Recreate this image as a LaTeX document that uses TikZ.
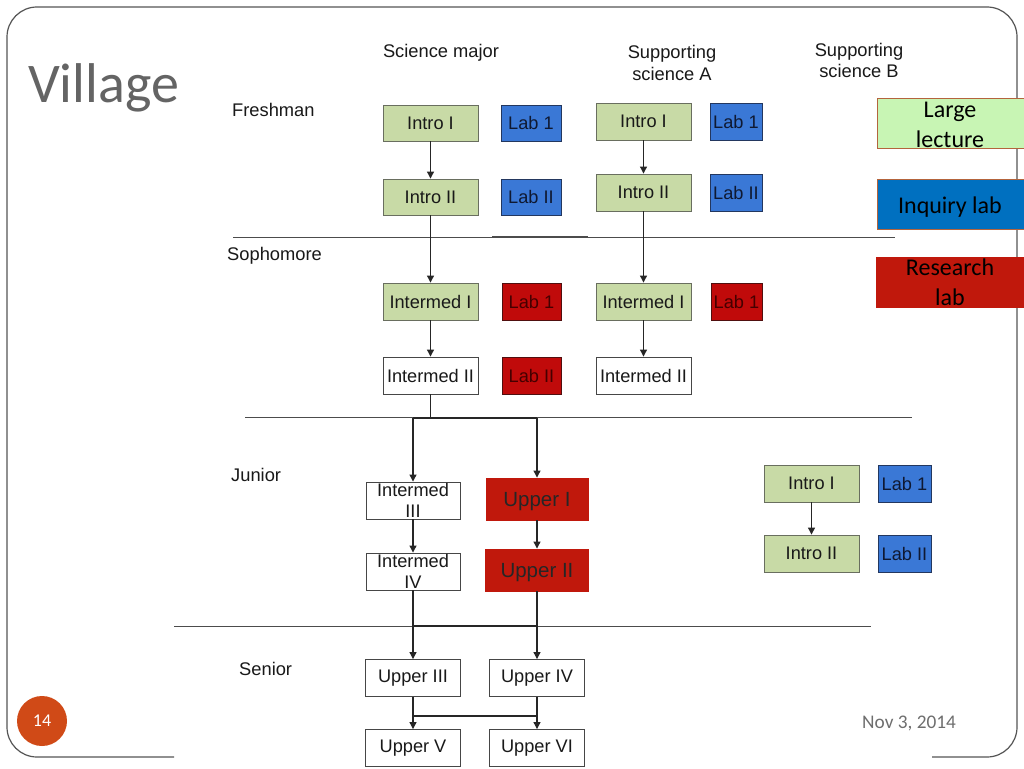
\documentclass[tikz,border=0pt]{standalone}
\usepackage{fontspec}
\setmainfont{Liberation Sans}
\newfontfamily\calib{Carlito}
\usetikzlibrary{arrows.meta}
\definecolor{boxgreen}{RGB}{200,218,166}
\definecolor{greenedge}{RGB}{105,110,95}
\definecolor{boxblue}{RGB}{58,120,214}
\definecolor{blueedge}{RGB}{35,55,95}
\definecolor{bluetext}{RGB}{15,25,50}
\definecolor{labred}{RGB}{192,10,10}
\definecolor{rededge}{RGB}{80,15,15}
\definecolor{redtext}{RGB}{70,0,0}
\definecolor{upred}{RGB}{192,24,12}
\definecolor{grayedge}{RGB}{70,70,70}
\definecolor{leggreen}{RGB}{200,245,180}
\definecolor{legblue}{RGB}{0,112,192}
\definecolor{legred}{RGB}{192,24,12}
\definecolor{legedge}{RGB}{180,100,60}
\definecolor{titlegray}{RGB}{100,100,100}
\definecolor{dategray}{RGB}{110,110,110}
\definecolor{pgorange}{RGB}{208,74,23}
\definecolor{framegray}{RGB}{85,85,85}
\begin{document}
\begin{tikzpicture}[x=1pt,y=-1pt,
  box/.style={draw, inner sep=0pt, line width=0.9pt, align=center,
    font=\fontsize{18.2}{21}\selectfont},
  wh/.style 2 args={minimum width=#1, minimum height=#2},
  gbox/.style={box, fill=boxgreen, draw=greenedge, text=black!90},
  bbox/.style={box, fill=boxblue, draw=blueedge, text=bluetext},
  rbox/.style={box, fill=labred, draw=rededge, text=redtext},
  wbox/.style={box, fill=white, draw=grayedge, text=black!90},
  ubox/.style={box, fill=upred, draw=upred, text=black!85,
    font=\fontsize{20.5}{22}\selectfont},
  legbox/.style={draw=legedge, line width=0.8pt, minimum width=148pt, minimum height=50pt, inner sep=0pt},
  legtext/.style={font=\calib\fontsize{24}{30}\selectfont, align=center, inner sep=0pt, text=black},
  lab/.style={font=\fontsize{18.3}{21}\selectfont, inner sep=0pt, text=black!90},
  conn/.style={draw=black!85, line width=1.1pt},
  arr/.style={conn, -{Triangle[length=7pt,width=7pt]}},
  sep/.style={draw=black!70, line width=1pt}]
\useasboundingbox (0,0) rectangle (1024,768);
\fill[white] (0,0) rectangle (1024,768);
% slide frame
\draw[framegray, line width=1.2pt, rounded corners=30pt]
  (174,757) -- (7,757) -- (7,7) -- (1017,7) -- (1017,757) -- (932,757);
% title and footer
\node[font=\calib\fontsize{56}{56}\selectfont, text=titlegray, anchor=base west, inner sep=0pt] (title) at (28,102) {Village};
\node[circle, fill=pgorange, minimum size=50pt, inner sep=0pt, text=white, font=\calib\fontsize{18}{18}\selectfont] (pg) at (42,721) {14};
\node[font=\calib\fontsize{19.3}{19}\selectfont, text=dategray, anchor=base west, inner sep=0pt] (date) at (862,728) {Nov 3, 2014};
% section lines
\draw[sep] (233,237) -- (895,237);
\draw[sep, line width=1.8pt] (492,237) -- (588,237);
\draw[sep] (245,417) -- (912,417);
\draw[sep] (174,626) -- (871,626);
% headers
\node[lab, anchor=base] (hsci) at (441,58) {Science major};
\node[lab, anchor=base, align=center] (hA) at (672,80) {Supporting\\science A};
\node[lab, anchor=base, align=center] (hB) at (859,77.5) {Supporting\\science B};
\node[lab, anchor=base west] (fresh) at (232,116) {Freshman};
\node[lab, anchor=base west] (soph) at (227,260) {Sophomore};
\node[lab, anchor=base west] (jun) at (231,481) {Junior};
\node[lab, anchor=base west] (sen) at (239,675) {Senior};
% science major
\node[gbox, wh={95pt}{36pt}] (sI1) at (430.5,123) {Intro I};
\node[bbox, wh={60pt}{36pt}] (sL1) at (531,123) {Lab 1};
\node[gbox, wh={95pt}{36pt}] (sI2) at (430.5,197) {Intro II};
\node[bbox, wh={60pt}{36pt}] (sL2) at (531,197) {Lab II};
\node[gbox, wh={95pt}{37pt}] (sM1) at (430.5,301.5) {Intermed I};
\node[rbox, wh={59pt}{37pt}] (sR1) at (531.5,301.5) {Lab 1};
\node[wbox, wh={95pt}{37pt}] (sM2) at (430.5,375.5) {Intermed II};
\node[rbox, wh={59pt}{37pt}] (sR2) at (531.5,375.5) {Lab II};
% supporting science A
\node[gbox, wh={95pt}{37pt}] (aI1) at (643.5,121.5) {Intro I};
\node[bbox, wh={52pt}{37pt}] (aL1) at (736,121.5) {Lab 1};
\node[gbox, wh={95pt}{37pt}] (aI2) at (643.5,192.5) {Intro II};
\node[bbox, wh={52pt}{37pt}] (aL2) at (736,192.5) {Lab II};
\node[gbox, wh={95pt}{37pt}] (aM1) at (643.5,301.5) {Intermed I};
\node[rbox, wh={51pt}{37pt}] (aR1) at (736.5,301.5) {Lab 1};
\node[wbox, wh={95pt}{37pt}] (aM2) at (643.5,375.5) {Intermed II};
% junior
\node[wbox, wh={94pt}{37pt}] (jM3) at (413,500.5) {Intermed\\III};
\node[ubox, wh={102pt}{42pt}, text depth=0pt] (jU1) at (537,499) {Upper I};
\node[wbox, wh={94pt}{37pt}] (jM4) at (413,571.5) {Intermed\\IV};
\node[ubox, wh={103pt}{42pt}, text depth=0pt] (jU2) at (537,570) {Upper II};
% supporting science B
\node[gbox, wh={95pt}{37pt}] (bI1) at (811.5,483.5) {Intro I};
\node[bbox, wh={53pt}{37pt}] (bL1) at (904.5,483.5) {Lab 1};
\node[gbox, wh={95pt}{37pt}] (bI2) at (811.5,553.5) {Intro II};
\node[bbox, wh={53pt}{37pt}] (bL2) at (904.5,553.5) {Lab II};
% senior
\node[wbox, wh={95pt}{37pt}] (u3) at (413,678) {Upper III};
\node[wbox, wh={95pt}{37pt}] (u4) at (537,678) {Upper IV};
\node[wbox, wh={95pt}{37pt}] (u5) at (413,748) {Upper V};
\node[wbox, wh={95pt}{37pt}] (u6) at (537,748) {Upper VI};
% legend
\node[legbox, fill=leggreen] (lg1) at (951,123) {};
\node[legtext, anchor=base] (lt1) at (950,147) {Large\\lecture};
\node[legbox, fill=legblue] (lg2) at (951,204) {};
\node[legtext, anchor=base] (lt2) at (950,213) {Inquiry lab};
\node[legbox, fill=legred, draw=legred] (lg3) at (950,282) {};
\node[legtext, anchor=base] (lt3) at (950,305) {Research\\lab};
% connectors
\draw[arr] (sI1) -- (sI2);
\draw[arr] (sI2) -- (sM1);
\draw[arr] (sM1) -- (sM2);
\draw[arr] (aI1) -- (aI2);
\draw[arr] (aI2) -- (aM1);
\draw[arr] (aM1) -- (aM2);
\draw[arr] (bI1) -- (bI2);
\coordinate (jl) at (413,418);
\coordinate (jr) at (537,418);
\draw[conn] (sM2.south) -- (sM2.south |- jl);
\draw[conn] (jl) -- (jr);
\draw[arr] (jl) -- (jM3.north);
\draw[arr] (jr) -- (jU1.north);
\draw[arr] (jM3) -- (jM4);
\draw[arr] (jU1) -- (jU2);
\coordinate (kl) at (413,626);
\coordinate (kr) at (537,626);
\draw[conn] (jM4.south) -- (kl);
\draw[conn] (jU2.south) -- (kr);
\draw[conn] (kl) -- (kr);
\draw[arr] (kl) -- (u3.north);
\draw[arr] (kr) -- (u4.north);
\coordinate (ml) at (413,716);
\coordinate (mr) at (537,716);
\draw[conn] (u3.south) -- (ml);
\draw[conn] (u4.south) -- (mr);
\draw[conn] (ml) -- (mr);
\draw[arr] (ml) -- (u5.north);
\draw[arr] (mr) -- (u6.north);
\end{tikzpicture}
\end{document}
